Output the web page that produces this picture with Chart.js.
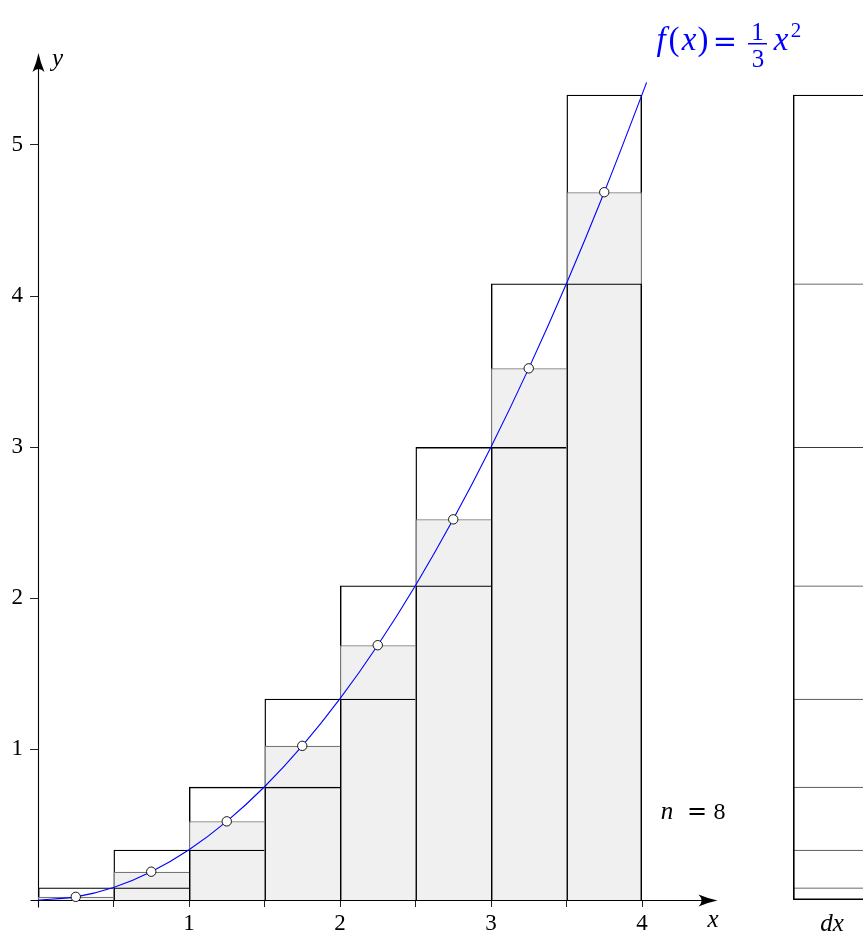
<!DOCTYPE html>
<html><head><meta charset="utf-8">
<script src="https://cdn.jsdelivr.net/npm/chart.js@4/dist/chart.umd.min.js"></script>
<style>
html,body{margin:0;padding:0;background:#fff;overflow:hidden;}
#c{display:block;}
</style></head><body>
<canvas id="c" width="863" height="934"></canvas>
<script>
// ---- data ----
const midX = [0.25, 0.75, 1.25, 1.75, 2.25, 2.75, 3.25, 3.75];
const upperValues = [0.0833, 0.3333, 0.75, 1.3333, 2.0833, 3, 4.0833, 5.3333];
const lowerValues = [0, 0.0833, 0.3333, 0.75, 1.3333, 2.0833, 3, 4.0833];
const midValues = [0.0208, 0.1875, 0.5208, 1.0208, 1.6875, 2.5208, 3.5208, 4.6875];
const dxColumnX = 5.25;
const curveX = [0, 0.25, 0.5, 0.75, 1, 1.25, 1.5, 1.75, 2, 2.25, 2.5, 2.75, 3, 3.25, 3.5, 3.75, 4, 4.03];
const curveY = [0, 0.0208, 0.0833, 0.1875, 0.3333, 0.5208, 0.75, 1.0208, 1.3333, 1.6875, 2.0833, 2.5208, 3, 3.5208, 4.0833, 4.6875, 5.3333, 5.4136];
const xTicks = [0, 0.5, 1, 1.5, 2, 2.5, 3, 3.5, 4];
const xTickLabels = ['', '', '1', '', '2', '', '3', '', '4'];
const yTicks = [1, 2, 3, 4, 5];
const yTickLabels = ['1', '2', '3', '4', '5'];

const SERIF = '"Liberation Serif", "Times New Roman", serif';
const lastIdx = midX.length - 1;
const sides = (w) => (ctx) => ({left: w, top: w, right: ctx.dataIndex === lastIdx ? w : 0, bottom: 0});
const pts = (xs, ys) => xs.map((x, i) => ({x, y: ys[i]}));

function arrow(ctx, tx, ty, ang) {
  ctx.save();
  ctx.translate(tx, ty);
  ctx.rotate(ang);
  ctx.beginPath();
  ctx.moveTo(0, 0);
  ctx.quadraticCurveTo(-9, -1.8, -19, -6);
  ctx.quadraticCurveTo(-13, 0, -19, 6);
  ctx.quadraticCurveTo(-9, 1.8, 0, 0);
  ctx.closePath();
  ctx.fillStyle = '#000';
  ctx.fill();
  ctx.restore();
}

function txt(ctx, s, x, y, font, color, align) {
  ctx.font = font;
  ctx.fillStyle = color || '#000';
  ctx.textAlign = align || 'center';
  ctx.textBaseline = 'alphabetic';
  ctx.fillText(s, x, y);
}

const decor = {
  id: 'decor',
  beforeDatasetsDraw(chart) {
    const {ctx} = chart;
    const xs = chart.scales.x, ys = chart.scales.y;
    const ox = Math.round(xs.getPixelForValue(0)) + 0.5;
    const oy = Math.round(ys.getPixelForValue(0)) + 0.5;
    const xEnd = xs.getPixelForValue(4.5);
    const yEnd = ys.getPixelForValue(5.61);
    ctx.save();
    ctx.strokeStyle = '#000';
    ctx.lineWidth = 1.1;
    ctx.beginPath();
    ctx.moveTo(ox - 8, oy); ctx.lineTo(xEnd - 12, oy);
    ctx.moveTo(ox, oy + 7); ctx.lineTo(ox, yEnd + 12);
    ctx.stroke();
    arrow(ctx, xEnd, oy, 0);
    arrow(ctx, ox, yEnd, -Math.PI / 2);
    ctx.restore();
  },
  afterDraw(chart) {
    const {ctx} = chart;
    ctx.save();
    const it = 'italic 25px ' + SERIF;
    // axis labels
    txt(ctx, 'y', 52, 66, it, '#000', 'left');
    txt(ctx, 'x', 713, 927, it, '#000');
    txt(ctx, 'dx', 832, 931, it, '#000');
    // n = 8
    txt(ctx, 'n', 667, 819, 'italic 25px ' + SERIF);
    txt(ctx, '=', 697, 819, '24px "DejaVu Serif"');
    txt(ctx, '8', 719.5, 819, '24px ' + SERIF);
    // f(x) = 1/3 x^2
    const B = 'rgb(0,0,255)';
    txt(ctx, 'f', 661, 50, 'italic 33px ' + SERIF, B);
    txt(ctx, '(', 674, 50, '33px ' + SERIF, B);
    txt(ctx, 'x', 689, 50, 'italic 33px ' + SERIF, B);
    txt(ctx, ')', 703, 50, '33px ' + SERIF, B);
    txt(ctx, '=', 725, 51, '29px "DejaVu Serif"', B);
    txt(ctx, '1', 757.5, 40, '25px ' + SERIF, B);
    ctx.fillStyle = B;
    ctx.fillRect(748, 43, 19, 1.5);
    txt(ctx, '3', 758, 67, '25px ' + SERIF, B);
    txt(ctx, 'x', 781, 50, 'italic 33px ' + SERIF, B);
    txt(ctx, '2', 796, 37, '21px ' + SERIF, B);
    ctx.restore();
  }
};

const barCommon = {
  type: 'bar', grouped: false, barPercentage: 1, categoryPercentage: 1,
  inflateAmount: 0, borderSkipped: 'start'
};

new Chart(document.getElementById('c'), {
  type: 'bar',
  data: {
    datasets: [
      Object.assign({}, barCommon, {
        label: 'dx', order: 6,
        data: upperValues.map(v => ({x: dxColumnX, y: v})),
        backgroundColor: 'rgba(0,0,0,0)',
        borderColor: (c) => c.dataIndex === upperValues.length - 1 ? '#000' : '#3a3a3a',
        borderWidth: (c) => c.dataIndex === upperValues.length - 1 ? 1.4 : 1.1, borderSkipped: false
      }),
      Object.assign({}, barCommon, {
        label: 'upper', order: 5, data: pts(midX, upperValues),
        backgroundColor: 'rgba(0,0,0,0)', borderColor: '#000', borderWidth: sides(1.4)
      }),
      Object.assign({}, barCommon, {
        label: 'mid', order: 4, data: pts(midX, midValues),
        backgroundColor: '#f0f0f0', borderColor: '#767676', borderWidth: sides(1.2)
      }),
      Object.assign({}, barCommon, {
        label: 'lower', order: 3, data: pts(midX, lowerValues),
        backgroundColor: 'rgba(0,0,0,0)', borderColor: '#000', borderWidth: sides(1.4)
      }),
      {
        type: 'line', label: 'f', order: 2, data: pts(curveX, curveY),
        borderColor: 'rgb(0,0,255)', borderWidth: 1.1, pointRadius: 0,
        cubicInterpolationMode: 'monotone', fill: false, clip: false
      },
      {
        type: 'line', label: 'mid points', order: 1, data: pts(midX, midValues),
        showLine: false, pointRadius: 4.7, pointBackgroundColor: '#fff',
        pointBorderColor: '#000', pointBorderWidth: 0.9, clip: false
      }
    ]
  },
  options: {
    responsive: false, animation: false, devicePixelRatio: 1,
    layout: {padding: 0, autoPadding: false},
    plugins: {legend: {display: false}, tooltip: {enabled: false}},
    scales: {
      x: {
        type: 'linear', position: 'bottom', min: 0, max: 825 / 151, offset: false,
        border: {display: false},
        grid: {display: true, drawOnChartArea: false, drawTicks: true, tickLength: 7, color: '#222', lineWidth: 1, offset: false},
        ticks: {autoSkip: false, maxRotation: 0, padding: 3, color: '#000',
          font: {family: SERIF, size: 23},
          callback: (v) => xTickLabels[xTicks.indexOf(v)]},
        afterBuildTicks: (s) => { s.ticks = xTicks.map(v => ({value: v})); },
        afterFit: (s) => { s.height = 34; s.paddingLeft = 0; s.paddingRight = 0; }
      },
      y: {
        type: 'linear', position: 'left', min: 0, max: 900 / 151,
        border: {display: false},
        grid: {display: true, drawOnChartArea: false, drawTicks: true, tickLength: 8, color: '#222', lineWidth: 1},
        ticks: {padding: 7, color: '#000', font: {family: SERIF, size: 23},
          callback: (v) => yTickLabels[yTicks.indexOf(v)]},
        afterBuildTicks: (s) => { s.ticks = yTicks.map(v => ({value: v})); },
        afterFit: (s) => { s.width = 38; s.paddingTop = 0; s.paddingBottom = 0; }
      }
    }
  },
  plugins: [decor]
});
</script>
</body></html>
